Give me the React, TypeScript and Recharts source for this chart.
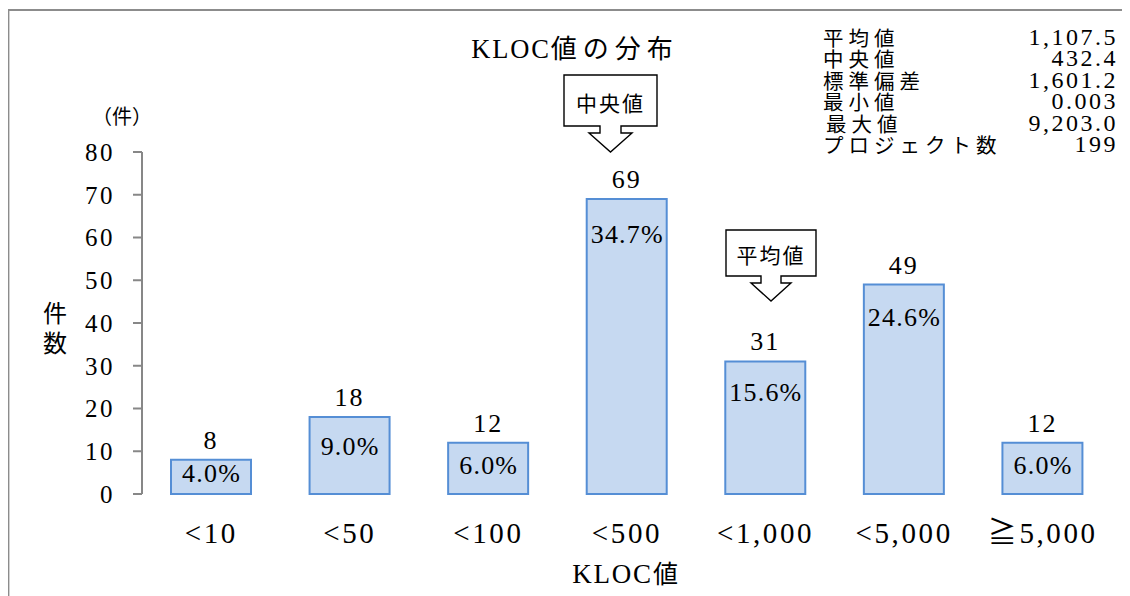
import React from "react";
import { BarChart, Bar, XAxis, YAxis, LabelList } from "recharts";

const categories = ["<10", "<50", "<100", "<500", "<1,000", "<5,000", "≧5,000"];
const counts = [8, 18, 12, 69, 31, 49, 12];
const shares = ["4.0%", "9.0%", "6.0%", "34.7%", "15.6%", "24.6%", "6.0%"];
const yTicks = [0, 10, 20, 30, 40, 50, 60, 70, 80];
const edgeTicks = [0, 1, 2, 3, 4, 5, 6, 7];
const statLabels = ["平均値", "中央値", "標準偏差", "最小値", "最大値", "プロジェクト数"];
const statValues = ["1,107.5", "432.4", "1,601.2", "0.003", "9,203.0", "199"];

const data = categories.map((name, i) => ({ name, count: counts[i], pct: shares[i] }));

const SERIF = "'Liberation Serif', 'Noto Sans CJK JP', serif";
const CJK = "'Noto Sans CJK JP', sans-serif";
const AXIS = "#878787";

function PctLabel(props: any) {
  const { x, y, width, height, value } = props;
  if (x == null || height == null) return null;
  // small bars: mid-height, taller bars: near the top
  const off = Math.min(height / 2 - 3, 27 + height * 0.03);
  return (
    <text
      x={x + width / 2 + 0.6}
      y={y + off}
      textAnchor="middle"
      dominantBaseline="central"
      fontFamily={SERIF}
      fontSize={26}
      letterSpacing={1.2}
      fill="#000"
    >
      {value}
    </text>
  );
}

function Callout({ x0, x1, y0, y1, shaft, head, tip, label }: any) {
  const cx = (x0 + x1) / 2;
  const c = tip[0];
  const d = `M${x0},${y0} H${x1} V${y1} H${c + shaft / 2} V${y1 + 7} H${c + head / 2} L${c},${tip[1]} L${c - head / 2},${y1 + 7} H${c - shaft / 2} V${y1} H${x0} Z`;
  return (
    <g>
      <path d={d} fill="#fff" stroke="#000" strokeWidth={1.4} />
      <text
        x={cx}
        y={(y0 + y1) / 2 + 1}
        textAnchor="middle"
        dominantBaseline="central"
        fontFamily={CJK}
        fontSize={21}
        letterSpacing={2}
        fill="#000"
      >
        {label}
      </text>
    </g>
  );
}

export default function App() {
  return (
    <div style={{ position: "relative", width: 1122, height: 588 }}>
      <BarChart
        width={1122}
        height={588}
        data={data}
        margin={{ top: 144, right: 18, left: 54, bottom: 42 }}
      >
        <XAxis
          xAxisId="edge"
          type="number"
          domain={[0, 7]}
          ticks={edgeTicks}
          height={0}
          tick={() => <g />}
          tickSize={8}
          axisLine={{ stroke: AXIS, strokeWidth: 2 }}
          tickLine={{ stroke: AXIS, strokeWidth: 2 }}
        />
        <XAxis
          dataKey="name"
          interval={0}
          height={60}
          axisLine={false}
          tickLine={false}
          tickSize={0}
          tickMargin={28}
          tick={{ fill: "#000", fontSize: 29, fontFamily: SERIF, letterSpacing: 2.6 }}
        />
        <YAxis
          width={80}
          domain={[0, 80]}
          ticks={yTicks}
          interval={0}
          tickSize={9}
          tickMargin={18}
          axisLine={{ stroke: AXIS, strokeWidth: 2 }}
          tickLine={{ stroke: AXIS, strokeWidth: 2 }}
          tick={{ fill: "#000", fontSize: 25, fontFamily: SERIF, letterSpacing: 2.5 }}
        />
        <Bar
          dataKey="count"
          fill="#c6d9f1"
          stroke="#558ed5"
          strokeWidth={2}
          barSize={80}
          isAnimationActive={false}
        >
          <LabelList
            dataKey="count"
            position="top"
            offset={11}
            fill="#000"
            fontSize={26}
            fontFamily={SERIF}
            letterSpacing={2}
          />
          <LabelList dataKey="pct" content={<PctLabel />} />
        </Bar>
      </BarChart>
      <svg
        width={1130}
        height={596}
        style={{ position: "absolute", left: -8, top: -8, pointerEvents: "none" }}
      >
        <path d="M8.3,600 V10 H1130" fill="none" stroke="#8c8c8c" strokeWidth={2.2} />
        <text x={575} y={58} textAnchor="middle" fontFamily={SERIF} fontSize={26.5} letterSpacing={1.8} fill="#000">
          KLOC
          <tspan fontFamily={CJK} fontSize={26} letterSpacing={6}>値の分布</tspan>
        </text>
        <text x={122} y={115} textAnchor="middle" dominantBaseline="central" fontFamily={CJK} fontSize={20} fill="#000">
          （件）
        </text>
        <text x={55} y={311} textAnchor="middle" dominantBaseline="central" fontFamily={CJK} fontSize={24} fill="#000">
          件
        </text>
        <text x={55} y={341} textAnchor="middle" dominantBaseline="central" fontFamily={CJK} fontSize={24} fill="#000">
          数
        </text>
        <text x={626} y={583} textAnchor="middle" fontFamily={SERIF} fontSize={27} letterSpacing={1.8} fill="#000">
          KLOC<tspan fontFamily={CJK} fontSize={25}>値</tspan>
        </text>
        {statLabels.map((s, i) => (
          <text
            key={s}
            x={i === 4 ? 826 : 823}
            y={36.5 + i * 21.5}
            dominantBaseline="central"
            fontFamily={CJK}
            fontSize={20.5}
            letterSpacing={5}
            fill="#000"
          >
            {s}
          </text>
        ))}
        {statValues.map((v, i) => (
          <text
            key={v}
            x={1118}
            y={36.5 + i * 21.5}
            textAnchor="end"
            dominantBaseline="central"
            fontFamily={SERIF}
            fontSize={24}
            letterSpacing={2.5}
            fill="#000"
          >
            {v}
          </text>
        ))}
        <Callout x0={564} x1={657} y0={75} y1={126} shaft={21} head={43} tip={[610.5, 152]} label="中央値" />
        <Callout x0={726} x1={816} y0={230} y1={276} shaft={20} head={40} tip={[771, 301]} label="平均値" />
      </svg>
    </div>
  );
}
